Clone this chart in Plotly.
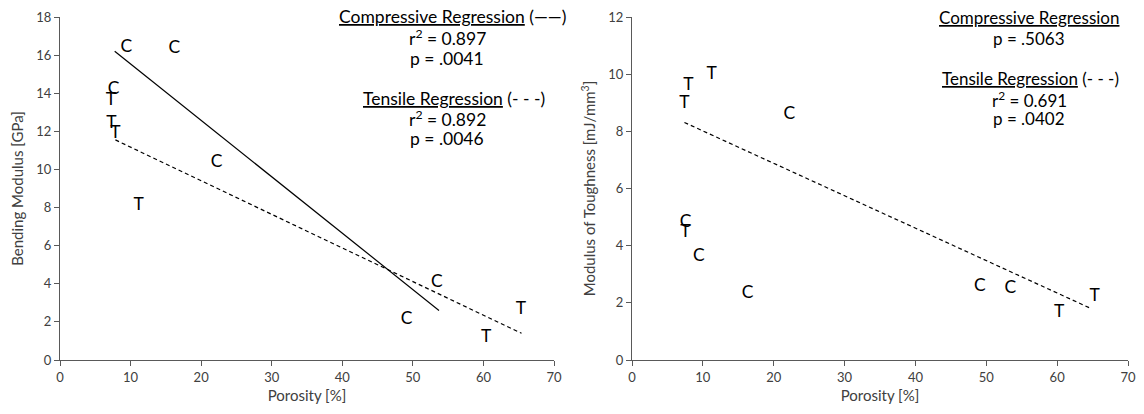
import plotly.graph_objects as go

# ---- Data: Bending Modulus chart ----
bm_c_x = [9.4, 16.2, 7.6, 22.2, 53.4, 49.1]
bm_c_y = [16.4, 16.35, 14.2, 10.35, 4.05, 2.1]
bm_t_x = [7.2, 7.3, 7.85, 11.15, 60.4, 65.3]
bm_t_y = [13.6, 12.4, 11.9, 8.1, 1.2, 2.65]
bm_comp_fit_x = [7.75, 53.7]
bm_comp_fit_y = [16.2, 2.6]
bm_tens_fit_x = [7.85, 65.4]
bm_tens_fit_y = [11.55, 1.4]

# ---- Data: Modulus of Toughness chart ----
mt_c_x = [22.2, 7.55, 9.45, 16.3, 49.1, 53.4]
mt_c_y = [8.6, 4.8, 3.62, 2.31, 2.57, 2.51]
mt_t_x = [11.25, 7.95, 7.4, 7.55, 60.3, 65.3]
mt_t_y = [9.98, 9.6, 8.96, 4.44, 1.66, 2.22]
mt_tens_fit_x = [7.4, 64.7]
mt_tens_fit_y = [8.31, 1.81]

x_ticks = [0, 10, 20, 30, 40, 50, 60, 70]
bm_y_ticks = [0, 2, 4, 6, 8, 10, 12, 14, 16, 18]
mt_y_ticks = [0, 2, 4, 6, 8, 10, 12]

FONT = "Lato"
LETTER = dict(family=FONT, size=17.5, color="#000000")
TICK = dict(family=FONT, size=13, color="#404040")
TITLE = dict(family=FONT, size=15, color="#404040")
ANN = dict(family=FONT, size=17.5, color="#000000")
ANN_R = dict(family=FONT, size=17, color="#000000")
AXC = "#595959"

fig = go.Figure()

# Left chart
fig.add_trace(go.Scatter(x=bm_comp_fit_x, y=bm_comp_fit_y, mode="lines",
                         line=dict(color="#000000", width=1.2), xaxis="x", yaxis="y", showlegend=False))
fig.add_trace(go.Scatter(x=bm_tens_fit_x, y=bm_tens_fit_y, mode="lines",
                         line=dict(color="#000000", width=1.2, dash="4px,3px"), xaxis="x", yaxis="y", showlegend=False))
fig.add_trace(go.Scatter(x=bm_c_x, y=bm_c_y, mode="text", text=["C"] * len(bm_c_x),
                         textposition="middle center", textfont=LETTER, xaxis="x", yaxis="y", showlegend=False))
fig.add_trace(go.Scatter(x=bm_t_x, y=bm_t_y, mode="text", text=["T"] * len(bm_t_x),
                         textposition="middle center", textfont=LETTER, xaxis="x", yaxis="y", showlegend=False))

# Right chart
fig.add_trace(go.Scatter(x=mt_tens_fit_x, y=mt_tens_fit_y, mode="lines",
                         line=dict(color="#000000", width=1.2, dash="4px,3px"), xaxis="x2", yaxis="y2", showlegend=False))
fig.add_trace(go.Scatter(x=mt_c_x, y=mt_c_y, mode="text", text=["C"] * len(mt_c_x),
                         textposition="middle center", textfont=LETTER, xaxis="x2", yaxis="y2", showlegend=False))
fig.add_trace(go.Scatter(x=mt_t_x, y=mt_t_y, mode="text", text=["T"] * len(mt_t_x),
                         textposition="middle center", textfont=LETTER, xaxis="x2", yaxis="y2", showlegend=False))

W, H = 1144, 414
ydom = [(H - 360) / H, (H - 17) / H]

def xax(domain, anchor):
    return dict(domain=domain, anchor=anchor, range=[0, 70], tickvals=x_ticks, automargin=False,
                showgrid=False, zeroline=False, showline=True, linecolor=AXC, linewidth=1.3,
                ticks="outside", ticklen=5, tickcolor=AXC, tickwidth=1.3, tickfont=TICK,
                title=dict(text="Porosity [%]", font=TITLE, standoff=6), fixedrange=True)

def yax(domain, anchor, rng, tv, title):
    return dict(domain=domain, anchor=anchor, range=rng, tickvals=tv, automargin=False,
                showgrid=False, zeroline=False, showline=True, linecolor=AXC, linewidth=1.3,
                ticks="outside", ticklen=5, tickcolor=AXC, tickwidth=1.3, tickfont=TICK,
                title=dict(text=title, font=TITLE, standoff=8), fixedrange=True)

fig.update_layout(
    template="none",
    width=W, height=H,
    margin=dict(l=0, r=0, t=0, b=0),
    paper_bgcolor="white", plot_bgcolor="white",
    xaxis=xax([60 / W, 554 / W], "y"),
    yaxis=yax(ydom, "x", [0, 18], bm_y_ticks, "Bending Modulus [GPa]"),
    xaxis2=xax([632 / W, 1128 / W], "y2"),
    yaxis2=yax(ydom, "x2", [0, 12], mt_y_ticks, "Modulus of Toughness [mJ/mm<sup>3</sup>]"),
    font=dict(family=FONT),
)

def ann(x, y, text, font=ANN):
    fig.add_annotation(x=x / W, y=1 - y / H, xref="paper", yref="paper", text=text,
                       showarrow=False, font=font, xanchor="center", yanchor="middle")

# Left annotations
ann(452, 17, "<u>Compressive Regression</u> (——)")
ann(447, 38, "r<sup>2</sup> = 0.897")
ann(447, 59, "p = .0041")
ann(454, 99, "<u>Tensile Regression</u> (- - -)")
ann(447, 119, "r<sup>2</sup> = 0.892")
ann(447, 139, "p = .0046")

# Right annotations
ann(1029, 18, "<u>Compressive Regression</u>", ANN_R)
ann(1029, 39, "p = .5063", ANN_R)
ann(1030, 79, "<u>Tensile Regression</u> (- - -)", ANN_R)
ann(1029, 100, "r<sup>2</sup> = 0.691", ANN_R)
ann(1029, 119, "p = .0402", ANN_R)

fig.write_html("out.html")
